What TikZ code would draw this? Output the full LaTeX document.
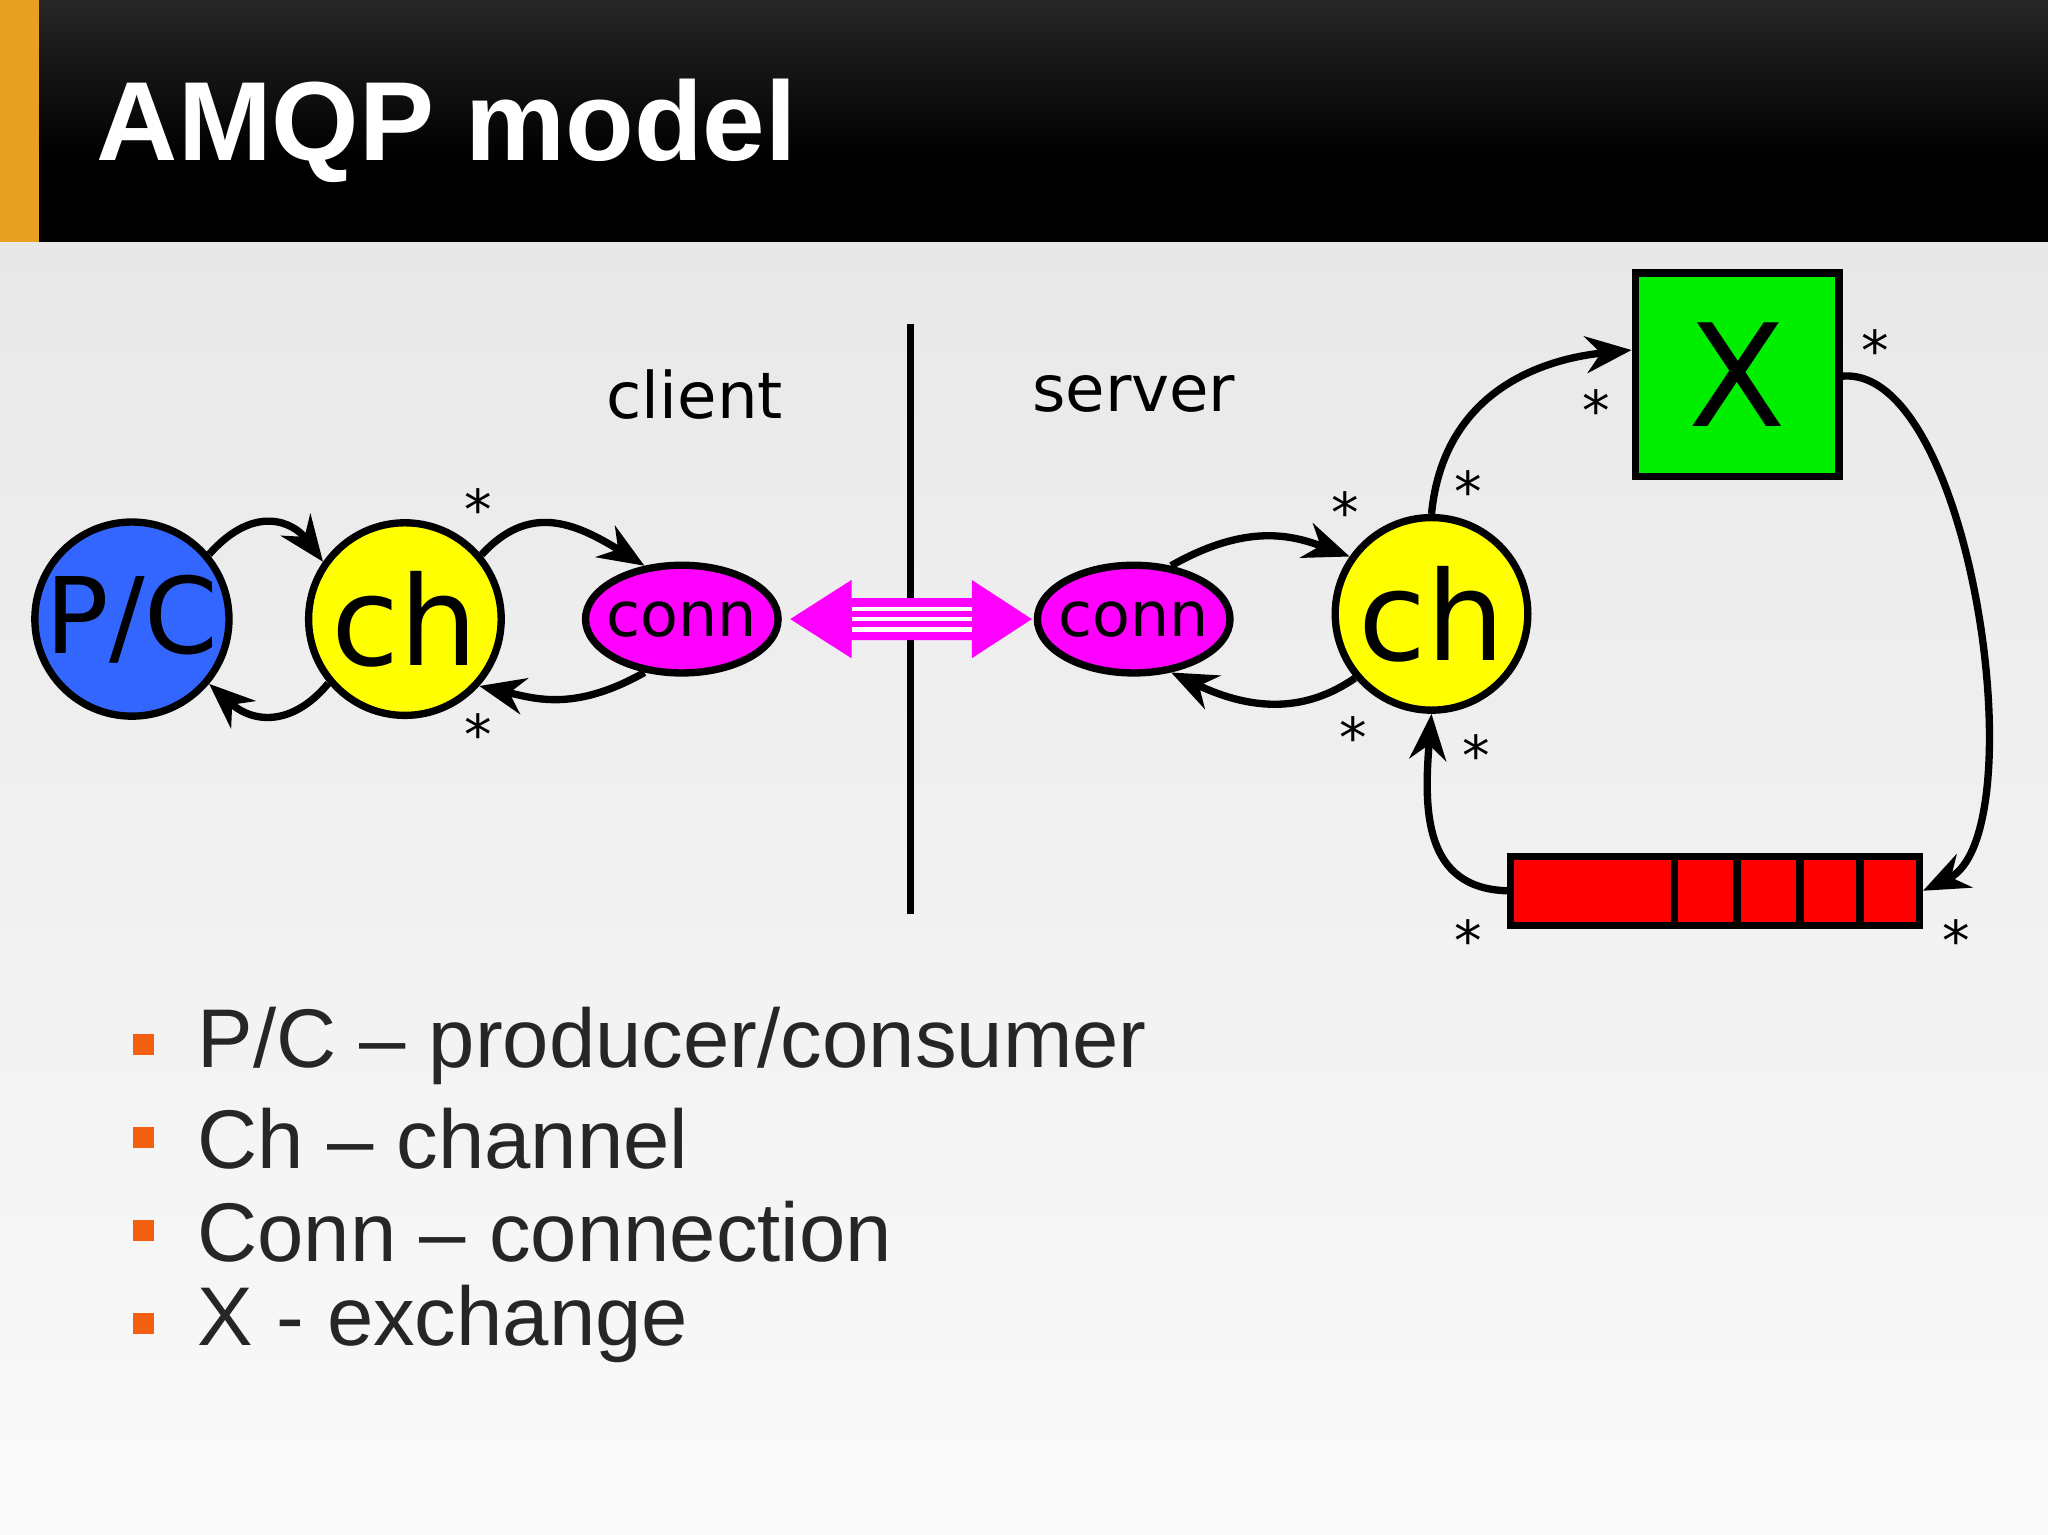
\documentclass[tikz,border=0pt]{standalone}
\usepackage{fontspec}
\setmainfont{Liberation Sans}
\newfontfamily\dejavu{DejaVu Sans}
\usetikzlibrary{arrows.meta, shapes.geometric}
\definecolor{pcblue}{HTML}{3366FF}
\definecolor{chyellow}{HTML}{FFFF00}
\definecolor{connmag}{HTML}{FF00FF}
\definecolor{xgreen}{HTML}{00EE00}
\definecolor{qred}{HTML}{FF0000}
\definecolor{barorange}{HTML}{E8A020}
\definecolor{bulletorange}{HTML}{F06010}

\begin{document}
\begin{tikzpicture}[x=0.02cm, y=-0.02cm,
	ball/.style={circle, draw, line width=3.2pt, minimum size=2.95cm, inner sep=0pt, font=\dejavu\fontsize{46}{46}\selectfont},
	oval/.style={ellipse, draw, line width=3.2pt, fill=connmag, minimum width=2.95cm, minimum height=1.65cm, inner xsep=-8pt, inner ysep=0pt, font=\dejavu\fontsize{27}{27}\selectfont},
	flow/.style={line width=3.2pt, -{Stealth[length=20pt, width=16pt]}},
	star/.style={font=\dejavu\fontsize{24}{24}\selectfont},
	side/.style={font=\dejavu\fontsize{28}{28}\selectfont},
	item/.style={anchor=west, font=\fontsize{36.3}{36.3}\selectfont, text=black!85}
	]
	% background
	\useasboundingbox (0,0) rectangle (1568,1175);
	\shade[top color=black!9, bottom color=black!2] (0,185) rectangle (1568,1175);
	\shade[top color=black!85, bottom color=black] (0,0) rectangle (1568,120);
	\fill[black] (0,118) rectangle (1568,185);
	\fill[barorange] (0,0) rectangle (30,185);
	\node[anchor=west, text=white, font=\bfseries\fontsize{49}{56}\selectfont] (title) at (68,100) {AMQP model};

	% client / server
	\draw[line width=3pt] (697,248) -- (697,700);
	\node[side] (client) at (532,302) {client};
	\node[side] (server) at (868,302) {server};

	% nodes
	\node[ball, fill=pcblue] (pc) at (101,474) {P/C};
	\node[ball, fill=chyellow, font=\dejavu\fontsize{54}{54}\selectfont] (ch1) at (310,474) {ch};
	\node[oval] (conn1) at (522,474) {conn};
	\node[oval] (conn2) at (868,474) {conn};
	\node[ball, fill=chyellow, font=\dejavu\fontsize{54}{54}\selectfont] (ch2) at (1096,470) {ch};
	\node[draw, line width=3.2pt, fill=xgreen, minimum size=3.12cm, font=\dejavu\fontsize{62}{62}\selectfont] (x) at (1330,287) {X};
	\node[draw, line width=3.2pt, fill=qred, minimum width=6.26cm, minimum height=1.06cm, inner sep=0pt] (queue) at (1313,682) {};
	\foreach \d in {1282,1330,1378,1424}
		\draw[line width=3.2pt] (\d,655) -- (\d,708);

	% link
	\fill[connmag] (605,474) -- (652,444) -- (652,458) -- (744,458) -- (744,444) -- (790,474)
		-- (744,504) -- (744,490) -- (652,490) -- (652,504) -- cycle;
	\foreach \s in {466,474,482}
		\draw[white, line width=1.8pt] (652,\s) -- (744,\s);

	% arrows
	\draw[flow] (pc.40) .. controls (195,385) and (225,400) .. (ch1.145);
	\draw[flow] (ch1.220) .. controls (225,555) and (195,555) .. (pc.320);
	\draw[flow] (ch1.40) .. controls (405,385) and (440,400) .. (conn1.125);
	\draw[flow] (conn1.235) .. controls (440,545) and (410,535) .. (ch1.318);
	\draw[flow] (conn2.55) .. controls (955,400) and (990,410) .. (ch2.145);
	\draw[flow] (ch2.220) .. controls (1000,545) and (960,545) .. (conn2.305);
	\draw[flow] (ch2.north) .. controls (1105,300) and (1180,275) .. (x.west |- 0,268);
	\draw[flow] (x.east |- 0,288) .. controls (1510,280) and (1560,640) .. (queue.east);
	\draw[flow] (queue.west) .. controls (1090,680) and (1090,620) .. (ch2.south);

	% multiplicities
	\foreach \px/\py in {366/390, 366/562, 1030/392, 1124/376, 1222/314, 1436/268, 1036/564, 1130/578, 1124/720, 1498/720}
		\node[star] at (\px,\py) {*};

	% legend
	\foreach \t [count=\i] in {P/C -- producer/consumer, Ch -- channel, Conn -- connection, X - exchange} {
		\fill[bulletorange] (102,{721+71*\i}) rectangle (118,{737+71*\i});
		\node[item] (item\i) at (145,{730+71*\i}) {\t};
	}
\end{tikzpicture}
\end{document}
